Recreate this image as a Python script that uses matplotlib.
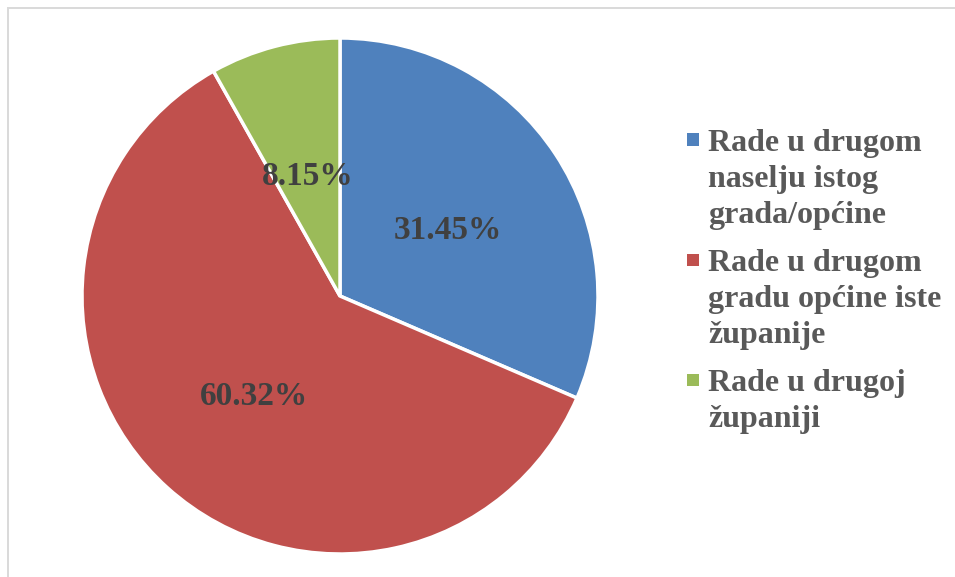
import numpy as np
import matplotlib.pyplot as plt
from matplotlib.patches import Rectangle

# data
labels = ["Rade u drugom\nnaselju istog\ngrada/općine",
          "Rade u drugom\ngradu općine iste\nžupanije",
          "Rade u drugoj\nžupaniji"]
shares = [31.45, 60.32, 8.15]
colors = ["#4F81BD", "#C0504D", "#9BBB59"]

W, H = 955, 577
fig = plt.figure(figsize=(W / 100, H / 100), dpi=100)
plt.rcParams['font.family'] = ['Liberation Serif', 'DejaVu Serif']

# chart border (runs off the right / bottom edge)
fig.patches.append(Rectangle((7.5 / W, -0.1), 1.2, 1 - 8 / H + 0.1,
                             transform=fig.transFigure, fill=False,
                             edgecolor="#D9D9D9", linewidth=1.4))

# pie: centre (340, 296) px, radius 258 px
r = 258
ax = fig.add_axes([(340 - r) / W, (H - 296 - r) / H, 2 * r / W, 2 * r / H])
wedges, texts = ax.pie(
    shares, colors=colors, startangle=90, counterclock=False,
    wedgeprops=dict(edgecolor="white", linewidth=2.5))
# percent labels (values as printed, not rescaled)
for w, val in zip(wedges, shares):
    ang = np.deg2rad((w.theta1 + w.theta2) / 2)
    ax.text(0.5 * np.cos(ang), 0.5 * np.sin(ang) - 5 / r, f"{val:.2f}%",
            ha="center", va="center", fontsize=24, fontweight="bold",
            color="#404040")
ax.set_xlim(-1, 1)
ax.set_ylim(-1, 1)
ax.set_aspect("equal")
ax.axis("off")

# legend on the right, marker next to first line of each entry
first_baselines = [150.5, 271, 391]
line_step = 36
for lab, col, yb in zip(labels, colors, first_baselines):
    fig.patches.append(Rectangle((687 / W, (H - yb + 5) / H), 12 / W, 12 / H,
                                 transform=fig.transFigure, color=col, lw=0))
    for i, line in enumerate(lab.split("\n")):
        fig.text(708 / W, (H - yb - i * line_step) / H, line, fontsize=23,
                 fontweight="bold", color="#595959", va="baseline", ha="left")

fig.savefig("out.png", dpi=100)
